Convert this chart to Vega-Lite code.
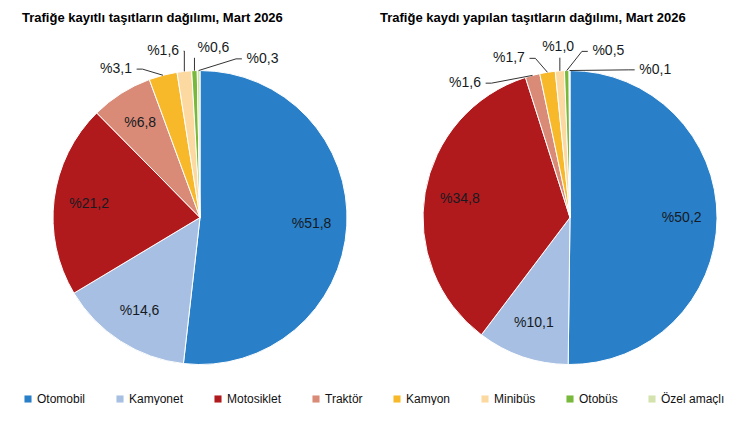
{
  "$schema": "https://vega.github.io/schema/vega-lite/v6.json",
  "background": "white",
  "padding": {"left": 22, "top": 12, "right": 0, "bottom": 0},
  "data": {
    "values": [
      {"grafik": "kayitli", "tur": "Otomobil", "pay": 51.8},
      {"grafik": "kayitli", "tur": "Kamyonet", "pay": 14.6},
      {"grafik": "kayitli", "tur": "Motosiklet", "pay": 21.2},
      {"grafik": "kayitli", "tur": "Traktör", "pay": 6.8},
      {"grafik": "kayitli", "tur": "Kamyon", "pay": 3.1},
      {"grafik": "kayitli", "tur": "Minibüs", "pay": 1.6},
      {"grafik": "kayitli", "tur": "Otobüs", "pay": 0.6},
      {"grafik": "kayitli", "tur": "Özel amaçlı", "pay": 0.3},
      {"grafik": "yapilan", "tur": "Otomobil", "pay": 50.2},
      {"grafik": "yapilan", "tur": "Kamyonet", "pay": 10.1},
      {"grafik": "yapilan", "tur": "Motosiklet", "pay": 34.8},
      {"grafik": "yapilan", "tur": "Traktör", "pay": 1.6},
      {"grafik": "yapilan", "tur": "Kamyon", "pay": 1.7},
      {"grafik": "yapilan", "tur": "Minibüs", "pay": 1.0},
      {"grafik": "yapilan", "tur": "Otobüs", "pay": 0.5},
      {"grafik": "yapilan", "tur": "Özel amaçlı", "pay": 0.1}
    ]
  },
  "transform": [
    {"calculate": "indexof(['Otomobil','Kamyonet','Motosiklet','Traktör','Kamyon','Minibüs','Otobüs','Özel amaçlı'], datum.tur)", "as": "sira"},
    {"calculate": "'%' + replace(format(datum.pay, '.1f'), '.', ',')", "as": "etiket"}
  ],
  "spacing": 20,
  "hconcat": [
    {
      "title": {"text": "Trafiğe kayıtlı taşıtların dağılımı, Mart 2026"},
      "width": 338,
      "height": 337,
      "transform": [
        {"filter": "datum.grafik == 'kayitli'"},
        {"stack": "pay", "groupby": [], "sort": [{"field": "sira", "order": "ascending"}], "as": ["b0", "b1"]},
        {"calculate": "(datum.b0 + datum.b1) / 200 * 2 * PI", "as": "orta"}
      ],
      "layer": [
        {
          "mark": {"type": "arc", "stroke": "white", "strokeWidth": 1, "radius": 147},
          "encoding": {
            "x": {"datum": 0, "type": "quantitative", "scale": {"domain": [-1.2109, 1.0884], "nice": false, "zero": false}, "axis": null},
            "y": {"datum": 0, "type": "quantitative", "scale": {"domain": [-1.01, 1.2825], "nice": false, "zero": false}, "axis": null},
            "theta": {"field": "pay", "type": "quantitative", "stack": true},
            "order": {"field": "sira", "type": "quantitative"},
            "color": {
              "field": "tur",
              "type": "nominal",
              "scale": {
                "domain": ["Otomobil", "Kamyonet", "Motosiklet", "Traktör", "Kamyon", "Minibüs", "Otobüs", "Özel amaçlı"],
                "range": ["#2a80c8", "#a6bfe2", "#b01a1c", "#d98b77", "#f7b82a", "#fcd9a0", "#78b83a", "#d4e3ad"]
              }
            }
          }
        },
        {
          "transform": [
            {"filter": "datum.pay >= 5"},
            {"calculate": "0.76 * sin(datum.orta)", "as": "lx"},
            {"calculate": "0.76 * cos(datum.orta)", "as": "ly"}
          ],
          "mark": {"type": "text"},
          "encoding": {
            "x": {"field": "lx", "type": "quantitative"},
            "y": {"field": "ly", "type": "quantitative"},
            "text": {"field": "etiket"}
          }
        },
        {
          "transform": [
            {"filter": "datum.pay < 5"},
            {"window": [{"op": "row_number", "as": "rn"}], "sort": [{"field": "sira"}]},
            {"joinaggregate": [{"op": "count", "as": "n"}]},
            {"calculate": "(-4 + (datum.rn - 1 - (datum.n - 1) / 2) * 17) * PI / 180", "as": "la"},
            {"calculate": "sin(datum.orta)", "as": "x1"},
            {"calculate": "cos(datum.orta)", "as": "y1"},
            {"calculate": "1.16 * sin(datum.la)", "as": "tx"},
            {"calculate": "1.16 * cos(datum.la)", "as": "ty"},
            {"calculate": "datum.tx > datum.x1 ? 1 : -1", "as": "yon"},
            {"calculate": "abs(datum.tx - datum.x1) < 0.13", "as": "dik"},
            {"calculate": "datum.tx - datum.yon * 0.14", "as": "sx0"},
            {"calculate": "datum.sx0 - datum.yon * 0.04", "as": "px0"},
            {"calculate": "datum.dik ? datum.x1 : (datum.yon * (datum.px0 - datum.x1) < 0 ? datum.x1 : datum.px0)", "as": "ex"},
            {"calculate": "datum.dik ? datum.ty - 0.07 : datum.ty", "as": "ey"},
            {"calculate": "datum.dik ? datum.x1 : datum.sx0", "as": "sx"}
          ],
          "layer": [
            {
              "mark": {"type": "rule", "color": "#333333", "strokeWidth": 1},
              "encoding": {
                "x": {"field": "x1", "type": "quantitative"},
                "y": {"field": "y1", "type": "quantitative"},
                "x2": {"field": "ex"},
                "y2": {"field": "ey"}
              }
            },
            {
              "mark": {"type": "rule", "color": "#333333", "strokeWidth": 1},
              "encoding": {
                "x": {"field": "ex", "type": "quantitative"},
                "y": {"field": "ey", "type": "quantitative"},
                "x2": {"field": "sx"},
                "y2": {"field": "ey"}
              }
            },
            {
              "mark": {"type": "text"},
              "encoding": {
                "x": {"field": "tx", "type": "quantitative"},
                "y": {"field": "ty", "type": "quantitative"},
                "text": {"field": "etiket"}
              }
            }
          ]
        }
      ]
    },
    {
      "title": {"text": "Trafiğe kaydı yapılan taşıtların dağılımı, Mart 2026"},
      "width": 365,
      "height": 337,
      "transform": [
        {"filter": "datum.grafik == 'yapilan'"},
        {"stack": "pay", "groupby": [], "sort": [{"field": "sira", "order": "ascending"}], "as": ["b0", "b1"]},
        {"calculate": "(datum.b0 + datum.b1) / 200 * 2 * PI", "as": "orta"}
      ],
      "layer": [
        {
          "mark": {"type": "arc", "stroke": "white", "strokeWidth": 1, "radius": 147},
          "encoding": {
            "x": {"datum": 0, "type": "quantitative", "scale": {"domain": [-1.2925, 1.1905], "nice": false, "zero": false}, "axis": null},
            "y": {"datum": 0, "type": "quantitative", "scale": {"domain": [-1.01, 1.2825], "nice": false, "zero": false}, "axis": null},
            "theta": {"field": "pay", "type": "quantitative", "stack": true},
            "order": {"field": "sira", "type": "quantitative"},
            "color": {"field": "tur", "type": "nominal"}
          }
        },
        {
          "transform": [
            {"filter": "datum.pay >= 5"},
            {"calculate": "0.76 * sin(datum.orta)", "as": "lx"},
            {"calculate": "0.76 * cos(datum.orta)", "as": "ly"}
          ],
          "mark": {"type": "text"},
          "encoding": {
            "x": {"field": "lx", "type": "quantitative"},
            "y": {"field": "ly", "type": "quantitative"},
            "text": {"field": "etiket"}
          }
        },
        {
          "transform": [
            {"filter": "datum.pay < 5"},
            {"window": [{"op": "row_number", "as": "rn"}], "sort": [{"field": "sira"}]},
            {"joinaggregate": [{"op": "count", "as": "n"}]},
            {"calculate": "(-4 + (datum.rn - 1 - (datum.n - 1) / 2) * 17) * PI / 180", "as": "la"},
            {"calculate": "sin(datum.orta)", "as": "x1"},
            {"calculate": "cos(datum.orta)", "as": "y1"},
            {"calculate": "1.16 * sin(datum.la)", "as": "tx"},
            {"calculate": "1.16 * cos(datum.la)", "as": "ty"},
            {"calculate": "datum.tx > datum.x1 ? 1 : -1", "as": "yon"},
            {"calculate": "abs(datum.tx - datum.x1) < 0.13", "as": "dik"},
            {"calculate": "datum.tx - datum.yon * 0.14", "as": "sx0"},
            {"calculate": "datum.sx0 - datum.yon * 0.04", "as": "px0"},
            {"calculate": "datum.dik ? datum.x1 : (datum.yon * (datum.px0 - datum.x1) < 0 ? datum.x1 : datum.px0)", "as": "ex"},
            {"calculate": "datum.dik ? datum.ty - 0.07 : datum.ty", "as": "ey"},
            {"calculate": "datum.dik ? datum.x1 : datum.sx0", "as": "sx"}
          ],
          "layer": [
            {
              "mark": {"type": "rule", "color": "#333333", "strokeWidth": 1},
              "encoding": {
                "x": {"field": "x1", "type": "quantitative"},
                "y": {"field": "y1", "type": "quantitative"},
                "x2": {"field": "ex"},
                "y2": {"field": "ey"}
              }
            },
            {
              "mark": {"type": "rule", "color": "#333333", "strokeWidth": 1},
              "encoding": {
                "x": {"field": "ex", "type": "quantitative"},
                "y": {"field": "ey", "type": "quantitative"},
                "x2": {"field": "sx"},
                "y2": {"field": "ey"}
              }
            },
            {
              "mark": {"type": "text"},
              "encoding": {
                "x": {"field": "tx", "type": "quantitative"},
                "y": {"field": "ty", "type": "quantitative"},
                "text": {"field": "etiket"}
              }
            }
          ]
        }
      ]
    }
  ],
  "resolve": {"scale": {"color": "shared"}},
  "config": {
    "font": "Liberation Sans",
    "view": {"stroke": null},
    "title": {"anchor": "start", "fontSize": 13, "fontWeight": "bold", "color": "#000000", "limit": 0, "offset": 4},
    "text": {"fontSize": 14, "color": "#161a22", "font": "Liberation Sans"},
    "legend": {
      "orient": "bottom",
      "direction": "horizontal",
      "columns": 8,
      "title": null,
      "symbolType": "square",
      "symbolSize": 50,
      "symbolStrokeWidth": 0,
      "labelFontSize": 12,
      "labelFont": "Liberation Sans",
      "labelColor": "#111111",
      "columnPadding": 28,
      "labelOffset": 3,
      "offset": 26
    }
  }
}
